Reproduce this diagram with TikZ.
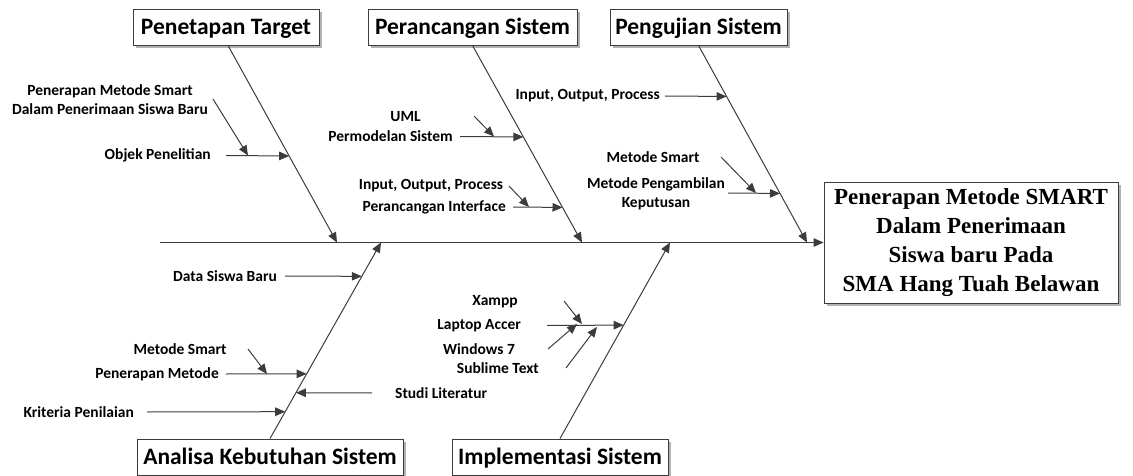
\documentclass[tikz,border=0pt]{standalone}
\usepackage{fontspec}
\setmainfont{Carlito}
\newfontfamily\tnr{Liberation Serif}
\usetikzlibrary{arrows.meta,calc,shadows}
\definecolor{lc}{HTML}{3C3C3C}
\begin{document}
\begin{tikzpicture}[x=1pt,y=-1pt,
  ln/.style={draw=lc, line width=1pt},
  arr/.style={ln, -{Triangle[length=10pt,width=8.5pt]}},
  box/.style={draw=lc, fill=white, line width=0.9pt, inner sep=0pt,
    drop shadow={shadow xshift=3pt, shadow yshift=-3pt, fill=gray!60, opacity=1},
    font=\bfseries\fontsize{23.5}{28}\selectfont},
  ttl/.style={box, minimum height=36pt, text height=15.5pt, text depth=0pt},
  lbl/.style={font=\bfseries\fontsize{15.5}{19}\selectfont, inner sep=0pt, align=center},
]
\useasboundingbox (0,0) rectangle (1133,476);

% boxes
\node[ttl, minimum width=186pt] (pt) at (226,27) {Penetapan Target};
\node[ttl, minimum width=209pt] (pr) at (472.5,27) {Perancangan Sistem};
\node[ttl, minimum width=177pt] (pu) at (698.5,27) {Pengujian Sistem};
\node[ttl, minimum width=266pt] (an) at (270,457) {Analisa Kebutuhan Sistem};
\node[ttl, minimum width=216pt] (im) at (560,457) {Implementasi Sistem};
\node[box, minimum width=294pt, minimum height=121pt, align=center,
      font=\tnr\bfseries\fontsize{23}{29}\selectfont] (main) at (971,242.5)
  {Penerapan Metode SMART\\Dalam Penerimaan\\Siswa baru Pada\\SMA Hang Tuah Belawan};

% spine
\coordinate (sp0) at (160,242.5);
\draw[arr] (sp0) -- (main.west);

% bone tips on spine
\coordinate (ptT) at (337,242.5);
\coordinate (prT) at (582,242.5);
\coordinate (puT) at (807,242.5);
\coordinate (anT) at (381,242.5);
\coordinate (imT) at (670,242.5);
\coordinate (ptB) at ($(pt.south)+(2,0)$);

\draw[arr] (ptB) -- (ptT);
\draw[arr] (pr.south) -- (prT);
\draw[arr] (pu.south) -- (puT);
\draw[arr] (an.north) -- (anT);
\draw[arr] (im.north) -- (imT);

% ---- Penetapan Target
\node[lbl] (pms) at (110,100) {Penerapan Metode Smart\\Dalam Penerimaan Siswa Baru};
\node[lbl, anchor=east] (obj) at (211,155.5) {Objek Penelitian};
\coordinate (objE) at ($(ptB)!0.561!(ptT)$);
\coordinate (objM) at (248,155.5);
\coordinate (pmsS) at (213,99);
\draw[arr] ([xshift=15pt]obj.east) -- (objE);
\draw[arr] (pmsS) -- (objM);

% ---- Perancangan Sistem
\node[lbl] (uml) at (405.5,117) {UML};
\node[lbl, anchor=east] (pmd) at (453,136.5) {Permodelan Sistem};
\coordinate (pmdE) at ($(pr.south)!0.4645!(prT)$);
\coordinate (pmdM) at (494,136.5);
\coordinate (umlS) at (474,116);
\draw[arr] ([xshift=7pt]pmd.east) -- (pmdE);
\draw[arr] (umlS) -- (pmdM);

\node[lbl] (iop1) at (431,186) {Input, Output, Process};
\node[lbl, anchor=east] (pif) at (506,207) {Perancangan Interface};
\coordinate (pifE) at ($(pr.south)!0.822!(prT)$);
\coordinate (pifM) at (529,207);
\coordinate (iop1S) at (509,186);
\draw[arr] ([xshift=7pt]pif.east) -- (pifE);
\draw[arr] (iop1S) -- (pifM);

% ---- Pengujian Sistem
\node[lbl, anchor=east] (iop2) at (660,96) {Input, Output, Process};
\coordinate (iop2E) at ($(pu.south)!0.2589!(puT)$);
\draw[arr] ([xshift=5pt]iop2.east) -- (iop2E);

\node[lbl] (ms1) at (653,157) {Metode Smart};
\node[lbl] (mpk) at (656,193.5) {Metode Pengambilan\\Keputusan};
\coordinate (mpkS) at (728,193);
\coordinate (mpkE) at ($(pu.south)!0.751!(puT)$);
\coordinate (mpkM) at (756,193);
\coordinate (ms1S) at (721,157);
\draw[arr] (mpkS) -- (mpkE);
\draw[arr] (ms1S) -- (mpkM);

% ---- Analisa Kebutuhan Sistem
\node[lbl, anchor=east] (dsb) at (277,276) {Data Siswa Baru};
\coordinate (dsbE) at ($(an.north)!0.8274!(anT)$);
\draw[arr] ([xshift=8pt]dsb.east) -- (dsbE);

\node[lbl] (ms2) at (180,349) {Metode Smart};
\node[lbl, anchor=east] (pnm) at (219,374) {Penerapan Metode};
\coordinate (pnmE) at ($(an.north)!0.33!(anT)$);
\coordinate (pnmM) at (267,374);
\coordinate (ms2S) at (248,349);
\draw[arr] ([xshift=7pt]pnm.east) -- (pnmE);
\draw[arr] (ms2S) -- (pnmM);

\node[lbl, anchor=west] (stl) at (395,393) {Studi Literatur};
\coordinate (stlE) at ($(an.north)!0.2335!(anT)$);
\draw[arr] ([xshift=-23pt]stl.west) -- (stlE);

\node[lbl, anchor=east] (krt) at (134,412) {Kriteria Penilaian};
\coordinate (krtE) at ($(an.north)!0.137!(anT)$);
\draw[arr] ([xshift=13pt]krt.east) -- (krtE);

% ---- Implementasi Sistem
\node[lbl] (xam) at (495,302) {Xampp};
\node[lbl, anchor=east] (lap) at (521,325.5) {Laptop Accer};
\node[lbl] (win) at (479,349) {Windows 7};
\node[lbl, anchor=east] (sub) at (539,368) {Sublime Text};
\coordinate (lapE) at ($(im.north)!0.5787!(imT)$);
\draw[arr] ([xshift=26pt]lap.east) -- (lapE);
\coordinate (xamS) at (564,301);
\coordinate (xamM) at (582,324);
\draw[arr] (xamS) -- (xamM);
\coordinate (winS) at (548,349);
\coordinate (winM) at (577,324);
\draw[arr] (winS) -- (winM);
\coordinate (subS) at (566,368);
\coordinate (subM) at (597,327);
\draw[arr] (subS) -- (subM);
\end{tikzpicture}
\end{document}
